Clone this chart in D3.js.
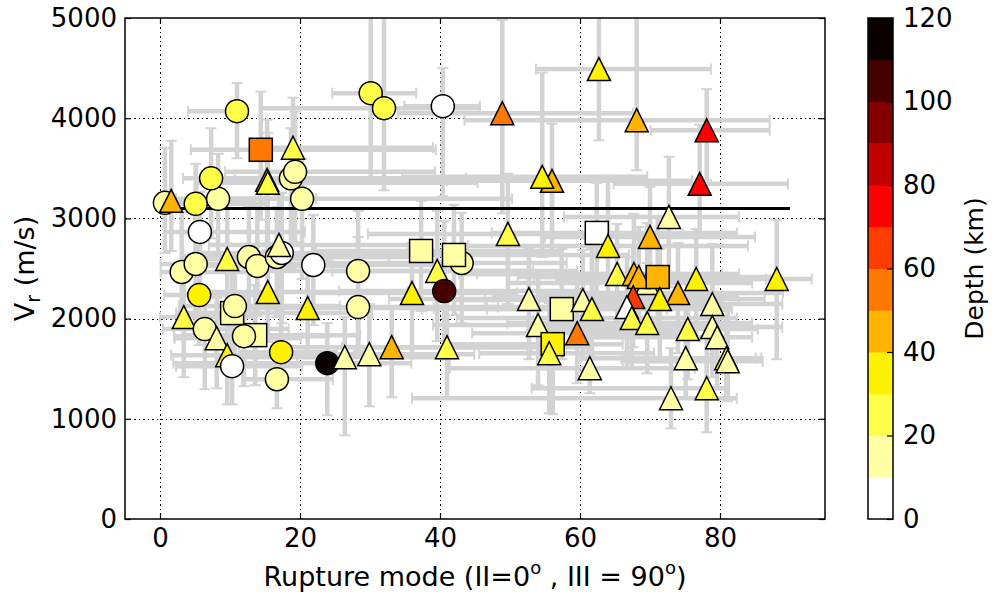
<!DOCTYPE html>
<html><head><meta charset="utf-8">
<script src="https://cdn.jsdelivr.net/npm/d3@7"></script>
<style>body{margin:0;background:#fff} text{font-family:"DejaVu Sans",sans-serif}</style>
</head><body><svg id="c" width="992" height="598"></svg>
<script>
// ---- data ----
const modes=[0.7,1.6,5.1,8.3,7.3,11.0,14.4,19.0,15.3,15.4,
18.7,19.3,20.3,30.1,32.0,40.4,48.9,56.0,54.6,62.7,
68.1,78.1,77.1,5.7,3.1,5.1,5.6,9.6,12.7,13.9,
16.7,17.4,17.0,21.9,15.4,21.1,3.4,10.3,10.7,6.4,
8.1,13.6,12.0,9.6,10.3,17.3,16.7,23.9,26.4,29.9,
33.1,41.0,28.3,28.3,36.0,37.3,43.1,42.0,39.6,40.6,
49.7,52.7,54.0,57.4,56.1,55.6,59.6,60.4,61.7,62.4,
64.0,72.7,70.0,65.3,69.6,67.7,68.4,71.1,76.6,88.1,
74.0,71.4,67.6,66.7,78.9,67.4,69.6,75.4,78.9,79.6,
75.1,80.9,81.1,61.4,78.1,73.0];
const vr=[3155,3175,3145,3195,3400,4070,3685,3705,3385,3355,
3400,3465,3195,4250,4100,4120,4050,3375,3415,4490,
3980,3880,3345,2865,2465,2545,2235,2595,2615,2525,
2615,2655,2735,2535,2265,2105,2015,2055,2125,1895,
1805,1835,1825,1635,1525,1665,1395,1555,1615,1645,
1715,1715,2475,2115,2255,2675,2555,2635,2475,2275,
2845,2195,1935,2095,1745,1655,1855,2185,2095,2855,
2725,3015,2815,2445,2355,2445,2415,2415,2395,2395,
2255,2195,2215,2115,2145,2005,1955,1895,1915,1815,
1605,1605,1575,1505,1305,1205];
const depth=[15,45,25,15,25,25,55,25,45,25,
15,15,15,25,25,5,55,45,35,35,
45,75,75,5,15,15,35,25,15,15,
15,5,15,5,35,35,25,15,15,15,
15,15,15,35,5,35,15,115,15,15,
45,25,15,15,35,15,15,15,25,105,
25,15,15,15,35,25,55,15,25,5,
35,15,45,25,15,45,45,45,35,35,
45,35,65,5,15,25,25,25,15,15,
15,25,15,15,25,15];
const shapes=("o^oooos^^^"+"oooooo^^^^"+"^^^oooo^oo"+"oo^o^^^soo"+"^so^oooo^^"+
"^^oo^sos^o"+"^^^ss^^^^s"+"^^^^^^^s^^"+"^^^^^^^^^^"+"^^^^^^").split("");
const modeErrLo=[0.7,1.6,3,6,4,7,10,5,8,10,
8,10,12,5.5,17.6,5.5,14.9,15,20,9,
24.6,8,12.3,5,3,5,5,6,8,9,
10,12,10,10,10,12,3.4,8,8,6,
6,10,10,8,8,6,5,22,15,12,
15,15,15,18,15,15,20,20,15,15,
20,20,15,20,15,10,15,20,15,15,
20,15,15,20,20,25,15,20,20,10,
20,25,20,20,20,25,20,20,15,20,
15,15,15,20,25,37];
const modeErrHi=[9,12,10,14,8,1,25,20,25,30,
25,20,30,6.5,13.7,5.3,18.7,20,15,16,
19,9,12.6,15,12,18,10,15,20,15,
22,18,20,20,20,18,10,20,15,12,
12,15,12,10,10,8,8,12,15,15,
20,20,25,20,15,20,15,25,20,20,
25,20,20,15,10,15,15,20,20,20,
20,10,15,15,15,15,20,10,10,5,
15,15,15,15,10,15,15,10,10,5,
10,5,5,15,3,9.4];
const vrErrLo=[500,500,700,600,600,470,700,600,700,600,
900,700,800,900,820,900,1000,700,800,710,
500,500,500,600,500,700,500,600,600,500,
600,700,700,600,500,500,600,500,500,600,
500,500,500,490,380,300,290,520,780,520,
500,500,800,500,600,600,600,600,700,600,
700,600,600,500,700,600,500,600,500,600,
600,700,600,600,500,500,600,500,600,800,
600,600,500,600,500,500,500,500,500,500,
400,400,400,250,440,300];
const vrErrHi=[550,600,400,450,500,280,580,500,600,500,
500,600,400,800,950,380,930,570,1040,600,
1100,410,590,400,600,500,400,500,500,600,
500,600,500,500,600,400,500,500,500,400,
400,500,400,300,400,400,400,400,400,500,
400,500,600,700,500,500,500,500,600,700,
600,500,500,600,500,500,500,500,600,500,
700,600,500,500,600,600,500,600,500,590,
500,500,500,500,600,500,600,500,500,400,
500,400,500,500,500,500];
const xTicks=[0,20,40,60,80];
const yTicks=[0,1000,2000,3000,4000,5000];
const depthTicks=[0,20,40,60,80,100,120];
const depthBounds=[0,10,20,30,40,50,60,70,80,90,100,110,120];
const refLine={vr:3100,from:0,to:90};
const palette=["#ffffff","#ffffa4","#ffff48","#fff200","#ffb500","#ff7800","#ff3c00","#fe0000","#c10000","#840000","#470000","#0b0000"];

// ---- layout ----
const L=125,R=825,T=18,B=519;
const x=d3.scaleLinear().domain([-5,95]).range([L,R]);
const y=d3.scaleLinear().domain([0,5000]).range([B,T]);
const color=d3.scaleThreshold().domain(depthBounds.slice(1,-1)).range(palette);
const svg=d3.select("#c");
svg.append("defs").append("clipPath").attr("id","clip")
  .append("rect").attr("x",L).attr("y",T).attr("width",R-L).attr("height",B-T);

// grid
const grid=svg.append("g").attr("stroke","#000").attr("stroke-width",1.3).attr("stroke-dasharray","1.5,3").attr("shape-rendering","crispEdges");
grid.selectAll(".gx").data(xTicks).join("line").attr("x1",d=>Math.round(x(d))+0.5).attr("x2",d=>Math.round(x(d))+0.5).attr("y1",T).attr("y2",B);
grid.selectAll(".gy").data(yTicks.filter(d=>d>0&&d<5000)).join("line").attr("y1",d=>Math.round(y(d))+0.5).attr("y2",d=>Math.round(y(d))+0.5).attr("x1",L).attr("x2",R);

// error bars
const idx=d3.range(modes.length);
const eb=svg.append("g").attr("clip-path","url(#clip)").attr("stroke","#d3d3d3").attr("fill","none");
const cap=5.5;
idx.forEach(i=>{
  const cx=x(modes[i]), cy=y(vr[i]);
  const x0=x(modes[i]-modeErrLo[i]), x1=x(modes[i]+modeErrHi[i]);
  const y0=y(vr[i]-vrErrLo[i]), y1=y(vr[i]+vrErrHi[i]);
  eb.append("line").attr("x1",x0).attr("x2",x1).attr("y1",cy).attr("y2",cy).attr("stroke-width",4.5);
  eb.append("line").attr("x1",cx).attr("x2",cx).attr("y1",y0).attr("y2",y1).attr("stroke-width",4.5);
  [x0,x1].forEach(v=>eb.append("line").attr("x1",v).attr("x2",v).attr("y1",cy-cap).attr("y2",cy+cap).attr("stroke-width",2));
  [y0,y1].forEach(v=>eb.append("line").attr("y1",v).attr("y2",v).attr("x1",cx-cap).attr("x2",cx+cap).attr("stroke-width",2));
});

// reference line
svg.append("line").attr("x1",x(refLine.from)).attr("x2",x(refLine.to)).attr("y1",y(refLine.vr)).attr("y2",y(refLine.vr))
  .attr("stroke","#000").attr("stroke-width",3);

// markers
const mk=svg.append("g").attr("clip-path","url(#clip)").attr("stroke","#000").attr("stroke-width",1.5);
const s=11.5;
idx.forEach(i=>{
  const cx=x(modes[i]), cy=y(vr[i]), f=color(depth[i]);
  if(shapes[i]==="o") mk.append("circle").attr("cx",cx).attr("cy",cy).attr("r",s).attr("fill",f);
  else if(shapes[i]==="s") mk.append("rect").attr("x",cx-s).attr("y",cy-s).attr("width",2*s).attr("height",2*s).attr("fill",f);
  else mk.append("path").attr("d",`M${cx},${cy-s}L${cx+s},${cy+s}L${cx-s},${cy+s}Z`).attr("fill",f).attr("stroke-linejoin","miter");
});

// frame + axes
function styleAxis(g){g.attr("font-size",26).attr("font-family","DejaVu Sans");g.select(".domain").remove();g.selectAll(".tick line").attr("stroke-width",1.2);g.selectAll("text").attr("fill","#000");}
const fmt=d3.format("d");
svg.append("g").attr("transform",`translate(0,${B})`).call(d3.axisBottom(x).tickValues(xTicks).tickFormat(fmt).tickSizeInner(-6).tickSizeOuter(0).tickPadding(10)).call(styleAxis);
svg.append("g").attr("transform",`translate(0,${T})`).call(d3.axisTop(x).tickValues(xTicks).tickSizeInner(-6).tickSizeOuter(0).tickFormat("")).call(styleAxis);
svg.append("g").attr("transform",`translate(${L},0)`).call(d3.axisLeft(y).tickValues(yTicks).tickFormat(fmt).tickSizeInner(-6).tickSizeOuter(0).tickPadding(8)).call(styleAxis);
svg.append("g").attr("transform",`translate(${R},0)`).call(d3.axisRight(y).tickValues(yTicks).tickSizeInner(-6).tickSizeOuter(0).tickFormat("")).call(styleAxis);
svg.append("rect").attr("x",L).attr("y",T).attr("width",R-L).attr("height",B-T).attr("fill","none").attr("stroke","#000").attr("stroke-width",1.5);

// axis labels
const xl=svg.append("text").attr("x",(L+R)/2).attr("y",586).attr("text-anchor","middle").attr("font-size",27);
xl.append("tspan").text("Rupture mode (II=0");
xl.append("tspan").attr("dy",-12).attr("font-size",18).text("o");
xl.append("tspan").attr("dy",12).text(" , III = 90");
xl.append("tspan").attr("dy",-12).attr("font-size",18).text("o");
xl.append("tspan").attr("dy",12).text(")");
const yl=svg.append("text").attr("transform",`translate(34,${(T+B)/2}) rotate(-90)`).attr("text-anchor","middle").attr("font-size",27);
yl.append("tspan").text("V");
yl.append("tspan").attr("dy",6).attr("font-size",19).text("r");
yl.append("tspan").attr("dy",-6).text(" (m/s)");

// colorbar
const CL=868,CR=893;
const yc=d3.scaleLinear().domain([0,120]).range([B,T]);
svg.append("g").selectAll("rect").data(d3.range(depthBounds.length-1)).join("rect")
  .attr("x",CL).attr("width",CR-CL).attr("y",i=>yc(depthBounds[i+1])).attr("height",i=>yc(depthBounds[i])-yc(depthBounds[i+1])+0.5)
  .attr("fill",i=>palette[i]);
svg.append("g").attr("transform",`translate(${CR},0)`).call(d3.axisRight(yc).tickValues(depthTicks).tickFormat(fmt).tickSizeInner(-6).tickSizeOuter(0).tickPadding(10)).call(styleAxis);
svg.append("rect").attr("x",CL).attr("y",T).attr("width",CR-CL).attr("height",B-T).attr("fill","none").attr("stroke","#000").attr("stroke-width",1.5);
svg.append("text").attr("transform",`translate(983,${(T+B)/2}) rotate(-90)`).attr("text-anchor","middle").attr("font-size",25).text("Depth (km)");
</script></body></html>
